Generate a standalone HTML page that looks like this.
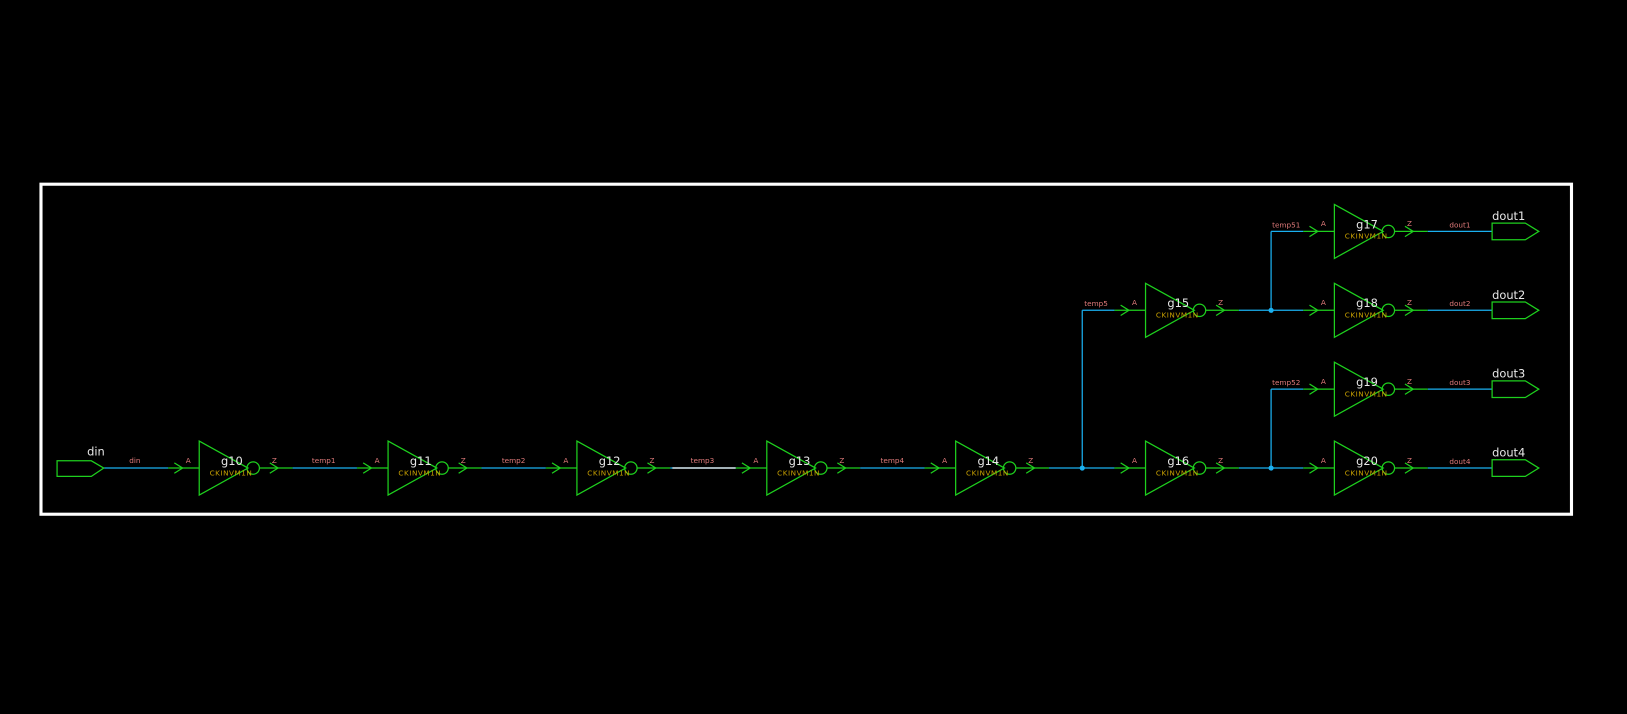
<!DOCTYPE html>
<html><head><meta charset="utf-8"><style>
html,body{margin:0;padding:0;background:#000;overflow:hidden}
svg{display:block}
text{font-family:"DejaVu Sans","Liberation Sans",sans-serif}
</style></head><body>
<svg id="s" width="1627" height="714" viewBox="0 0 1568 688" preserveAspectRatio="none" xmlns="http://www.w3.org/2000/svg">
<rect x="0" y="0" width="1568" height="688" fill="#000"/>
<rect x="39.5" y="177.5" width="1475" height="318" fill="none" stroke="#fff" stroke-width="3"/>
</svg>
<script>
const S=document.getElementById('s');
const NS='http://www.w3.org/2000/svg';
const G='#1ed01e',B='#1ab0f0',P='#e07a7a',Y='#c8a000',W='#e8e8e8';
function mk(tag,attrs,txt){const e=document.createElementNS(NS,tag);for(const k in attrs)e.setAttribute(k,attrs[k]);if(txt!==undefined)e.textContent=txt;S.appendChild(e);return e;}
function line(x1,y1,x2,y2,c){return mk('line',{x1,y1,x2,y2,stroke:c,'stroke-width':1.2});}
const gates=[['g10',192,451],['g11',374,451],['g12',556,451],['g13',739,451],['g14',921,451],['g15',1104,299],['g16',1104,451],['g17',1286,223],['g18',1286,299],['g19',1286,375],['g20',1286,451]];
gates.forEach(([n,L,y])=>{
  const t=mk('polygon',{points:`${L},${y-26} ${L},${y+26} ${L+47},${y}`,fill:'none',stroke:G,'stroke-width':1.2});
  
  
  mk('circle',{cx:L+52,cy:y,r:6,fill:'none',stroke:G,'stroke-width':1.2});
  line(L-30,y,L,y,G);line(L+58,y,L+90,y,G);
  mk('polyline',{points:`${L-24},${y-5} ${L-16},${y} ${L-24},${y+5}`,fill:'none',stroke:G,'stroke-width':1.2});
  mk('polyline',{points:`${L+68},${y-5} ${L+76},${y} ${L+68},${y+5}`,fill:'none',stroke:G,'stroke-width':1.2});
  const nl=mk('text',{x:L+21,y:y-3,fill:W,'font-size':11},n);
  
  
  mk('text',{x:L+10,y:y+7,fill:Y,'font-size':7,'letter-spacing':'0.5'},'CKINVM1N');
  mk('text',{x:L-13,y:y-5,fill:P,'font-size':7},'A');
  mk('text',{x:L+70,y:y-5,fill:P,'font-size':7},'Z');
});
// wires
const wires=[[100,451,162,451],[282,451,344,451],[464,451,526,451],[646,451,709,451],[829,451,891,451],[1011,451,1074,451],[1043,451,1043,299],[1043,299,1074,299],
[1194,299,1256,299],[1225,299,1225,223],[1225,223,1256,223],[1194,451,1256,451],[1225,451,1225,375],[1225,375,1256,375],
[1376,223,1438,223],[1376,299,1438,299],[1376,375,1438,375],[1376,451,1438,451]];
wires.forEach(w=>{const e=line(...w,B);});
line(648,451,709,451,'#fff');
[[1043,451],[1225,299],[1225,451]].forEach(([x,y])=>{const d=mk('circle',{cx:x,cy:y,r:2.5,fill:B});});
// net labels
[['din',130,446,'middle'],['temp1',312,446,'middle'],['temp2',495,446,'middle'],['temp3',677,446,'middle'],['temp4',860,446,'middle'],['temp5',1045,295,'start'],['temp51',1226,219,'start'],['temp52',1226,371,'start'],['dout1',1407,219,'middle'],['dout2',1407,295,'middle'],['dout3',1407,371,'middle'],['dout4',1407,447,'middle']].forEach(([t,x,y,a])=>{
  const e=mk('text',{x,y,fill:P,'font-size':7,'text-anchor':a},t);
  
  
});
// ports
const p=mk('polygon',{points:'55,444 88,444 100,451 88,459 55,459',fill:'none',stroke:G,'stroke-width':1.2});


mk('text',{x:84,y:439,fill:W,'font-size':11},'din');
[['dout1',223],['dout2',299],['dout3',375],['dout4',451]].forEach(([n,y])=>{
  const e=mk('polygon',{points:`1438,${y-8} 1470,${y-8} 1483,${y} 1470,${y+8} 1438,${y+8}`,fill:'none',stroke:G,'stroke-width':1.2});
  
  
  mk('text',{x:1438,y:y-11,fill:W,'font-size':11},n);
});
</script>
</body></html>
